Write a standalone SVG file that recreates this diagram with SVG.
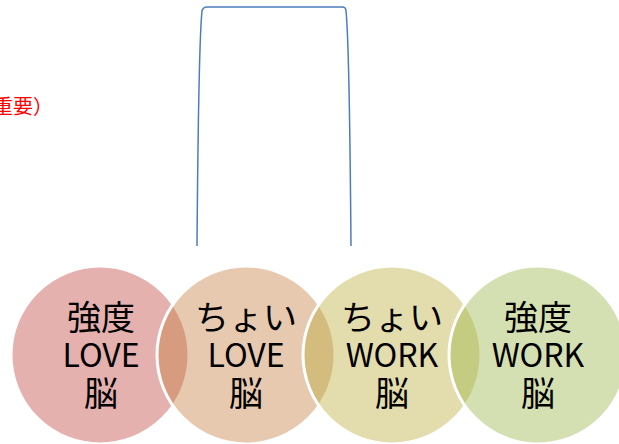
<svg xmlns="http://www.w3.org/2000/svg" width="619" height="444" viewBox="0 0 619 444">
<style>
.c{stroke:#fff;stroke-width:3}
.t{font-family:"Noto Sans CJK JP","Noto Sans",sans-serif;font-size:34px;fill:#000;text-anchor:middle}
.l{font-size:32px}
.r{font-family:"Noto Sans CJK JP",sans-serif;font-size:20px;fill:#ff0000}
</style>
<rect width="619" height="444" fill="#fff"/>
<text class="r" x="-7" y="114">重要）</text>
<g id="connectors">
<path d="M197,246 C198,120 200,30 202,11 Q203,7 207,7 L342,7 Q346,7 346,11 C348,30 350,120 351,246" fill="none" stroke="#4a7ebb" stroke-width="1.5"/>
</g>
<g id="node1">
<circle class="c" cx="100" cy="355" r="89" fill="rgb(193,69,64)" fill-opacity="0.42"/>
<text class="t" x="101" y="330">強度</text>
<text class="t l" x="101" y="367">LOVE</text>
<text class="t" x="101" y="406">脳</text>
</g>
<g id="node2">
<circle class="c" cx="246" cy="355" r="89" fill="rgb(195,126,64)" fill-opacity="0.42"/>
<text class="t" x="246" y="330">ちょい</text>
<text class="t l" x="246" y="367">LOVE</text>
<text class="t" x="246" y="406">脳</text>
</g>
<g id="node3">
<circle class="c" cx="392" cy="355" r="89" fill="rgb(188,172,60)" fill-opacity="0.42"/>
<text class="t" x="392" y="330">ちょい</text>
<text class="t l" x="392" y="367">WORK</text>
<text class="t" x="392" y="406">脳</text>
</g>
<g id="node4">
<circle class="c" cx="538" cy="355" r="89" fill="rgb(153,181,72)" fill-opacity="0.42"/>
<text class="t" x="538" y="330">強度</text>
<text class="t l" x="538" y="367">WORK</text>
<text class="t" x="538" y="406">脳</text>
</g>
</svg>
